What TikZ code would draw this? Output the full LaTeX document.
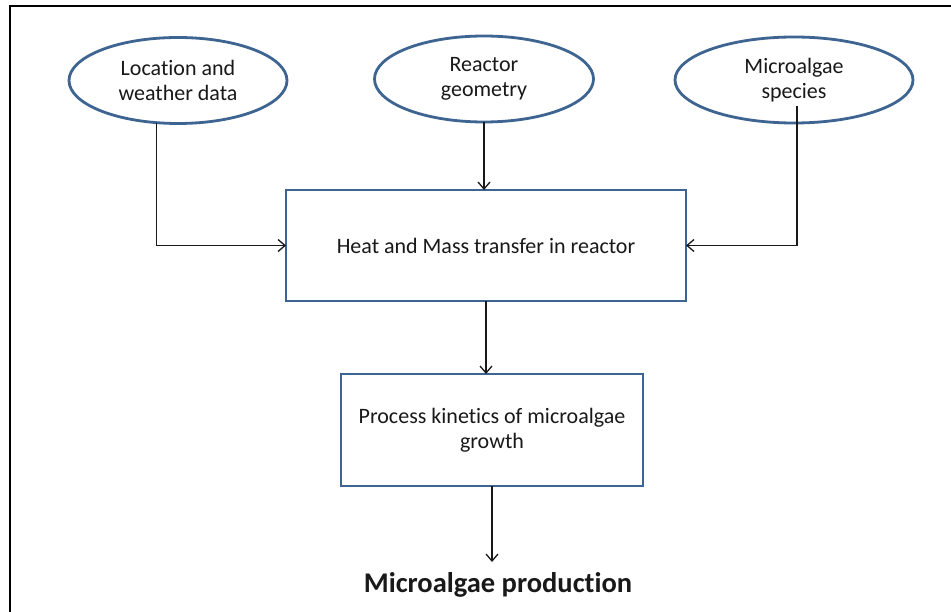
\documentclass[tikz,border=0pt]{standalone}
\usepackage{fontspec}
\setmainfont{Carlito}[Ligatures=NoCommon]
\usetikzlibrary{shapes.geometric,arrows.meta}
\definecolor{shapeblue}{RGB}{62,100,145}
\definecolor{ink}{RGB}{25,25,25}
\begin{document}
\begin{tikzpicture}[x=1pt,y=-1pt,
  outline/.style={draw=shapeblue, line width=2.8pt, fill=white, inner sep=0pt,
    outer sep=0pt, align=center, text=ink, font=\fontsize{22}{25}\selectfont},
  ell/.style={outline, ellipse},
  blk/.style={outline, rectangle},
  link/.style={draw=ink, line width=1.3pt, -{Straight Barb[length=7pt,width=12pt]}}]

% page and frame
\useasboundingbox (0,0) rectangle (951,612);
\fill[white] (0,0) rectangle (951,612);
\draw[line width=2pt] (10,612) -- (10,6) -- (951,6);

% inputs
\node[ell, minimum width=218pt, minimum height=86pt] (loc)  at (178,80.5) {Location and\\weather data};
\node[ell, minimum width=219pt, minimum height=86pt] (geo)  at (484,79) {Reactor\\geometry};
\node[ell, minimum width=238pt, minimum height=86pt] (spec) at (794,80) {Microalgae\\species};

% process blocks
\node[blk, minimum width=400pt, minimum height=111pt] (heat) at (486,245.5) {Heat and Mass transfer in reactor};
\node[blk, minimum width=302pt, minimum height=112pt] (kin)  at (492,430) {Process kinetics of microalgae\\growth};

% result
\node[anchor=base, inner sep=0pt, outer ysep=10pt, text=ink,
  font=\bfseries\fontsize{28.5}{32}\selectfont] (out) at (498,592) {Microalgae production};

% connectors
\draw[link] (loc.243) |- (heat.west);
\draw[link] (geo.south) -- (geo.south |- heat.north);
\draw[link] ([shift={(3,26)}]spec.center) |- (heat.east);
\draw[link] (heat.south) -- (heat.south |- kin.north);
\draw[link] (kin.south) -- (kin.south |- out.north);
\end{tikzpicture}
\end{document}
